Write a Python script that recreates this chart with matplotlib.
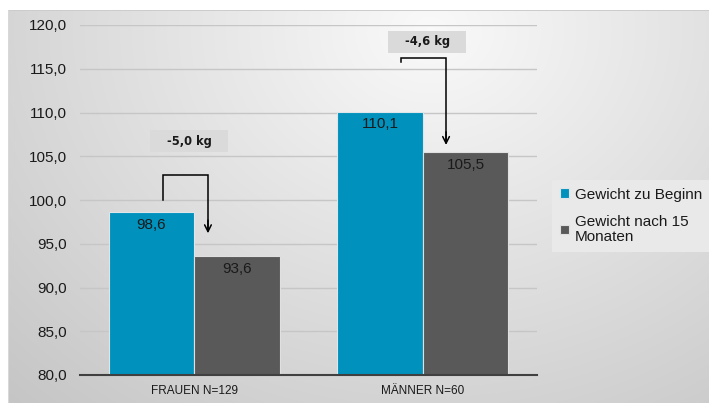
import numpy as np
import matplotlib
matplotlib.use("Agg")
import matplotlib.pyplot as plt
from matplotlib.patches import Rectangle

plt.rcParams['font.family'] = ['Liberation Sans', 'DejaVu Sans']

categories = ["FRAUEN N=129", "MÄNNER N=60"]
series_names = ["Gewicht zu Beginn", "Gewicht nach 15\nMonaten"]
start_values = [98.6, 110.1]
end_values = [93.6, 105.5]
diff_labels = ["-5,0 kg", "-4,6 kg"]
yticks = [80, 85, 90, 95, 100, 105, 110, 115, 120]
ytick_labels = ["80,0", "85,0", "90,0", "95,0", "100,0", "105,0", "110,0", "115,0", "120,0"]

blue = "#0091bd"
gray = "#595959"

W, H = 709, 403
fig = plt.figure(figsize=(W / 100, H / 100), dpi=100)

# background
bg = fig.add_axes([0, 0, 1, 1])
yy, xx = np.mgrid[0:H, 0:W]
r = np.sqrt(((xx - 430) / 540.0) ** 2 + ((yy - 30) / 450.0) ** 2)
r = np.clip(r, 0, 1.15)
L = 0.978 - 0.18 * r
img = np.ones((H, W, 3))
mask = (xx >= 8) & (yy >= 10)
for c in range(3):
    ch = img[:, :, c]
    ch[mask] = L[mask]
img[10, 8:, :] = 0.8
img[10:, 8, :] = 0.85
bg.imshow(img, aspect='auto', interpolation='bilinear', extent=[0, W, H, 0])
bg.set_xlim(0, W)
bg.set_ylim(H, 0)
bg.axis('off')

ax = fig.add_axes([80 / W, 1 - 375 / H, 457 / W, 350 / H])
ax.set_facecolor('none')
x = np.arange(len(categories))
bw = 0.375
b1 = ax.bar(x - bw / 2, start_values, bw, color=blue, edgecolor='#dfe6ea', linewidth=0.8,
            label=series_names[0], zorder=3)
b2 = ax.bar(x + bw / 2, end_values, bw, color=gray, edgecolor='#e0e0e0', linewidth=0.8,
            label=series_names[1], zorder=3)
ax.set_ylim(80, 120)
ax.set_xlim(-0.5, 1.5)
ax.set_yticks(yticks)
ax.set_yticklabels(ytick_labels, fontsize=11, color='#1a1a1a')
ax.set_xticks(x)
ax.set_xticklabels(categories, fontsize=8.5, color='#1a1a1a')
ax.tick_params(length=0, pad=7)
ax.tick_params(axis='y', pad=9.5)
ax.grid(axis='y', color='#c6c6c6', linewidth=1, zorder=0)
for s in ['top', 'right', 'left']:
    ax.spines[s].set_visible(False)
ax.spines['bottom'].set_color('#404040')
ax.spines['bottom'].set_linewidth(1.5)
ax.spines['bottom'].set_zorder(4)

for i in range(len(categories)):
    ax.text(x[i] - bw / 2, start_values[i] - 1.45, f"{start_values[i]:.1f}".replace('.', ','),
            ha='center', va='center', fontsize=11, color='#1a1a1a', zorder=5)
    ax.text(x[i] + bw / 2, end_values[i] - 1.45, f"{end_values[i]:.1f}".replace('.', ','),
            ha='center', va='center', fontsize=11, color='#1a1a1a', zorder=5)

# brackets: (left x off, right x off, start y off, top y off, tip y off)
brackets = [(-0.137, 0.060, 1.4, 4.26, 2.6), (-0.095, 0.102, 5.67, 6.13, 0.79)]
box_offsets = [(-0.023, 8.14), (0.019, 8.0)]
for i, (lx, rx, sy, ty, tipy) in enumerate(brackets):
    x0 = x[i] + lx
    x1 = x[i] + rx
    y0 = start_values[i] + sy
    yt = start_values[i] + ty
    ye = end_values[i] + tipy
    ax.plot([x0, x0, x1, x1], [y0, yt, yt, ye + 0.5], color='black', lw=1.1, zorder=5,
            solid_joinstyle='miter')
    ax.annotate('', xy=(x1, ye), xytext=(x1, ye + 1.5),
                arrowprops=dict(arrowstyle='->', color='black', lw=1.1,
                                mutation_scale=12, shrinkA=0, shrinkB=0), zorder=5)
    bx, by = box_offsets[i]
    cx = x[i] + bx
    cy = start_values[i] + by
    ax.add_patch(Rectangle((cx - 0.17, cy - 1.25), 0.34, 2.5, facecolor='#dadada',
                           edgecolor='none', zorder=4, clip_on=False))
    ax.text(cx, cy, diff_labels[i], ha='center', va='center', fontsize=8.3,
            fontweight='bold', family='DejaVu Sans', color='#1a1a1a', zorder=6)

leg = fig.legend(handles=[b1, b2], labels=series_names, loc='upper left',
                 bbox_to_anchor=(552 / W, 1 - 180 / H), fontsize=11,
                 frameon=True, fancybox=False, facecolor='#e9e9e9', edgecolor='none',
                 framealpha=1, handlelength=0.6, handleheight=0.6, handletextpad=0.4,
                 labelspacing=0.85, borderpad=0.5, borderaxespad=0)
for t in leg.get_texts():
    t.set_color('#1a1a1a')
    t.set_linespacing(1.15)

fig.savefig('out.png', dpi=100)
